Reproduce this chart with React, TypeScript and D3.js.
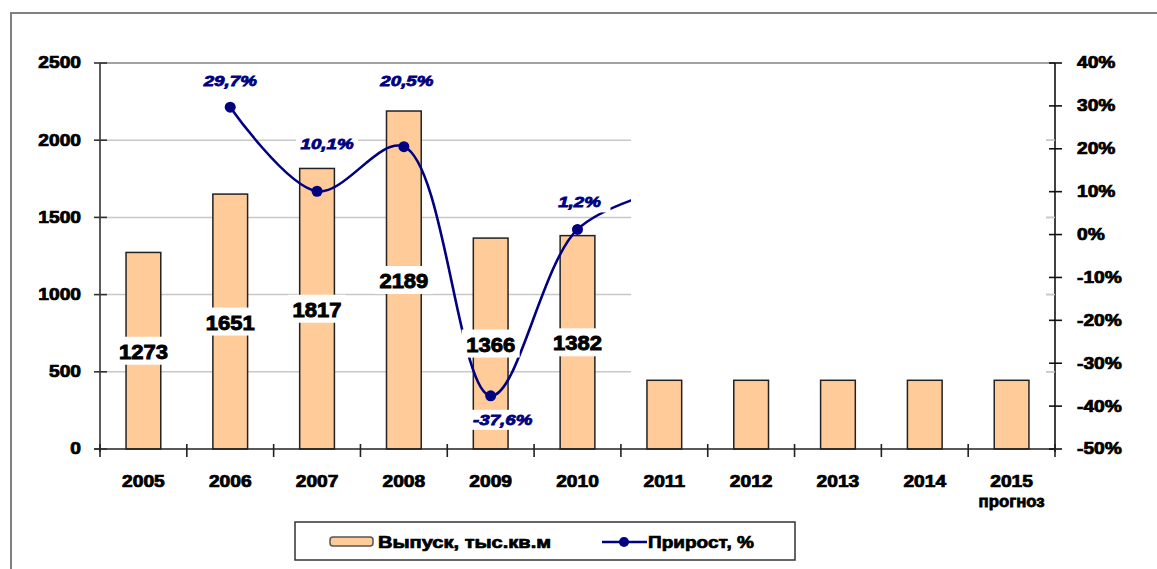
import React from "react";
import * as d3 from "d3";

const years = ["2005", "2006", "2007", "2008", "2009", "2010", "2011", "2012", "2013", "2014", "2015"];
const output = [1273, 1651, 1817, 2189, 1366, 1382, 445, 445, 445, 445, 445];
const labeledBars = 6;
const growthYears = ["2006", "2007", "2008", "2009", "2010", "2011"];
const growth = [29.7, 10.1, 20.5, -37.6, 1.2, 10.4];
const growthLabelCount = 5;
const outputTicks = [0, 500, 1000, 1500, 2000, 2500];
const pctTicks = [-50, -40, -30, -20, -10, 0, 10, 20, 30, 40];
const legendBar = "Выпуск, тыс.кв.м";
const legendLine = "Прирост, %";
const forecastNote = "прогноз";

const W = 1157, H = 569;
const L = 100, R = 1055, T = 63, B = 449;
const FONT = "'Liberation Sans', Arial, sans-serif";
const BAR_FILL = "#FFCC99";
const NAVY = "#000080";
const pctOffsets = [[0, -26], [10, -47], [3, -65], [12, 24], [2, -27]];

function Txt({ x, y, children, size = 17, fill = "#000", anchor = "middle", italic = false, sx = 1.2, sw = 0.75 }: any) {
  return (
    <g transform={`translate(${x},${y}) scale(${sx},1)`}>
      <text
        textAnchor={anchor}
        dominantBaseline="central"
        fontSize={size}
        fontWeight="bold"
        fontStyle={italic ? "italic" : "normal"}
        fontFamily={FONT}
        fill={fill}
        stroke={fill}
        strokeWidth={sw}
      >
        {children}
      </text>
    </g>
  );
}

export default function App() {
  const x = d3.scaleBand<string>().domain(years).range([L, R]).paddingInner(0.6).paddingOuter(0.3);
  const step = x.step();
  const y = d3.scaleLinear().domain([0, 2500]).range([B, T]);
  const y2 = d3.scaleLinear().domain([-50, 40]).range([B, T]);
  const cx = (yr: string) => (x(yr) as number) + x.bandwidth() / 2;

  const pts: [number, number][] = growthYears.map((yr, i) => [cx(yr), y2(growth[i])]);
  const lineGen = d3.line().curve(d3.curveCatmullRom.alpha(0.5));
  const linePath = lineGen(pts) || "";

  const fmtPct = (v: number) => v.toFixed(1).replace(".", ",") + "%";
  const boundaries = years.map((_, i) => L + i * step).concat([R]);

  return (
    <div style={{ position: "absolute", left: 0, top: 0 }}>
      <svg width={W} height={H} style={{ display: "block", background: "#fff" }}>
        <rect x={11} y={13} width={W + 20} height={H + 20} fill="none" stroke="#808080" strokeWidth={2} />

        {outputTicks.filter((t) => t > 0).map((t) => (
          <line key={t} x1={L} x2={R} y1={y(t)} y2={y(t)} stroke="#c8c8c8" strokeWidth={1.5} />
        ))}

        <rect x={631} y={T + 1} width={1046 - 631} height={381 - T - 1} fill="#fff" />

        <line x1={L} x2={R} y1={T} y2={T} stroke="#909090" strokeWidth={1.5} />

        {years.map((yr, i) => (
          <rect
            key={yr}
            x={x(yr)}
            y={y(output[i])}
            width={x.bandwidth()}
            height={B - y(output[i])}
            fill={BAR_FILL}
            stroke="#222"
            strokeWidth={1.5}
          />
        ))}

        <clipPath id="vis">
          <rect x={0} y={0} width={631} height={H} />
        </clipPath>
        <g clipPath="url(#vis)">
          <path d={linePath} fill="none" stroke={NAVY} strokeWidth={2.6} />
          {pts.map((p, i) => (
            <circle key={i} cx={p[0]} cy={p[1]} r={5.5} fill={NAVY} />
          ))}
        </g>

        {years.slice(0, labeledBars).map((yr, i) => {
          const yy = (y(output[i]) + B) / 2;
          return (
            <g key={yr}>
              <rect x={cx(yr) - 29} y={yy - 14} width={58} height={28} fill="#fff" />
              <Txt x={cx(yr)} y={yy + 1} size={20} sx={1.1} sw={0.9}>{output[i]}</Txt>
            </g>
          );
        })}

        {growth.slice(0, growthLabelCount).map((v, i) => {
          const px = pts[i][0] + pctOffsets[i][0];
          const py = pts[i][1] + pctOffsets[i][1];
          const wBox = v < 0 ? 70 : 62;
          return (
            <g key={i}>
              <rect x={px - wBox / 2} y={py - 10} width={wBox} height={20} fill="#fff" />
              <Txt x={px} y={py} size={15} fill={NAVY} italic sx={1.25} sw={0.8}>{fmtPct(v)}</Txt>
            </g>
          );
        })}

        <line x1={L} x2={L} y1={T} y2={B + 3} stroke="#333" strokeWidth={1.6} />
        <line x1={R} x2={R} y1={T} y2={B + 3} stroke="#111" strokeWidth={1.6} />
        <line x1={L - 6} x2={R} y1={B} y2={B} stroke="#222" strokeWidth={1.6} />
        {outputTicks.map((t) => (
          <g key={t}>
            <line x1={L - 6} x2={L + 7} y1={y(t)} y2={y(t)} stroke="#333" strokeWidth={1.6} />
            <Txt x={81} y={y(t)} anchor="end" size={16} sx={1.2}>{t}</Txt>
          </g>
        ))}
        {outputTicks.filter((t) => t > 0 && t < 2500).map((t) => (
          <line key={"s" + t} x1={1046} x2={R} y1={y(t)} y2={y(t)} stroke="#c8c8c8" strokeWidth={1.5} />
        ))}
        {pctTicks.map((t) => (
          <g key={t}>
            <line x1={R - 6} x2={R + 7} y1={y2(t)} y2={y2(t)} stroke="#111" strokeWidth={1.6} />
            <Txt x={1077} y={y2(t)} anchor="start" size={16} sx={1.2}>{t + "%"}</Txt>
          </g>
        ))}
        {boundaries.map((bx, i) => (
          <line key={i} x1={bx} x2={bx} y1={B - 5} y2={B + 8} stroke="#222" strokeWidth={1.6} />
        ))}
        {years.map((yr) => (
          <Txt key={yr} x={cx(yr)} y={482} size={16} sx={1.2}>{yr}</Txt>
        ))}
        <Txt x={cx("2015")} y={501} size={16} sx={1.05}>{forecastNote}</Txt>

        <rect x={295} y={522} width={500} height={38} fill="#fff" stroke="#333" strokeWidth={1.5} />
        <rect x={330} y={537} width={43} height={9} rx={3} fill={BAR_FILL} stroke="#555" strokeWidth={1.5} />
        <Txt x={378} y={542} anchor="start" size={17} sx={1.18}>{legendBar}</Txt>
        <line x1={602} x2={647} y1={542} y2={542} stroke={NAVY} strokeWidth={2.6} />
        <circle cx={624} cy={542} r={5} fill={NAVY} />
        <Txt x={648} y={542} anchor="start" size={17} sx={1.12}>{legendLine}</Txt>
      </svg>
    </div>
  );
}
